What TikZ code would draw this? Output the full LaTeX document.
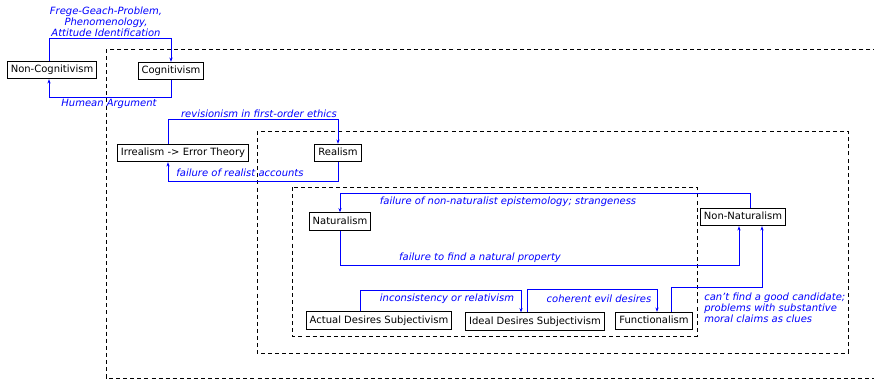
\documentclass[tikz,border=0pt]{standalone}
\usepackage{fontspec}
\setmainfont{DejaVu Sans}
\usepackage{tikz}
\usetikzlibrary{arrows.meta, calc}
\tikzset{
    concept/.style={rectangle, draw=black, line width=0.8pt, fill=white, minimum height=13pt, inner xsep=2.6pt, inner ysep=0pt, text height=5.7pt, text depth=1.6pt, font=\fontsize{7.5}{8}\selectfont},
    arrow/.style={draw=argblue, line width=0.7pt, -{Stealth[length=3.2pt, width=2.4pt]}},
    reason/.style={text=argblue, inner sep=0pt, font=\fontsize{7.5}{8.2}\selectfont\itshape},
    region/.style={draw=black, line width=0.75pt, dash pattern=on 3pt off 2.3pt}
}
\definecolor{argblue}{RGB}{0,0,255}

\begin{document}
\begin{tikzpicture}[x=0.75pt, y=-0.75pt]
    \clip (0,0) rectangle (874,379);

    % Dashed regions
    \draw[region] (106,49) rectangle (880,378);
    \draw[region] (257,131) rectangle (848,353);
    \draw[region] (292,187) rectangle (697,336);

    % Nodes
    \node (noncog) [concept] at (52,70) {Non-Cognitivism};
    \node (cog) [concept] at (171,71) {Cognitivism};
    \node (irreal) [concept] at (183,153) {Irrealism -> Error Theory};
    \node (real) [concept] at (338,153) {Realism};
    \node (natural) [concept] at (340,221.5) {Naturalism};
    \node (nonnat) [concept] at (743,217) {Non-Naturalism};
    \node (actual) [concept] at (379,320.5) {Actual Desires Subjectivism};
    \node (ideal) [concept] at (535,321.5) {Ideal Desires Subjectivism};
    \node (func) [concept] at (654,321) {Functionalism};

    % Labels
    \node (fregelbl) [reason, align=center] at (106,22) {Frege-Geach-Problem,\\Phenomenology,\\Attitude Identification};
    \node (humelbl) [reason] at (109,104) {Humean Argument};
    \node (revlbl) [reason] at (259,114) {revisionism in first-order ethics};
    \node (reallbl) [reason] at (240,173) {failure of realist accounts};
    \node (epistlbl) [reason] at (508,202) {failure of non-naturalist epistemology; strangeness};
    \node (proplbl) [reason] at (480,258) {failure to find a natural property};
    \node (inconlbl) [reason] at (447,299) {inconsistency or relativism};
    \node (evillbl) [reason] at (599,299) {coherent evil desires};
    \node (candlbl) [reason, align=left, anchor=west] at (704,308) {can{\char"0027}t find a good candidate;\\problems with substantive\\moral claims as clues};

    % Arrows
    \draw[arrow] ($(noncog.north)+(-3,0)$) -- ++(0,-22) -| (cog.north);
    \draw[arrow] (cog.south) -- ++(0,17) -| ($(noncog.south)+(-3,0)$);
    \draw[arrow] ($(irreal.north)+(-15,0)$) -- ++(0,-24) -| (real.north);
    \draw[arrow] (real.south) -- ++(0,19) -| ($(irreal.south)+(-15,0)$);
    \draw[arrow] ($(nonnat.north)+(7,0)$) -- ++(0,-14) -| (natural.north);
    \draw[arrow] (natural.south) -- ++(0,35) -| ($(nonnat.south)+(-4,0)$);
    \draw[arrow] ($(actual.north)+(-19,0)$) -- ++(0,-21) -| ($(ideal.north)+(-14,0)$);
    \draw[arrow] ($(ideal.north)+(-8,0)$) -- ++(0,-23) -| ($(func.north)+(3,0)$);
    \draw[arrow] ($(func.north)+(17,0)$) -- ++(0,-24) -| ($(nonnat.south)+(19,0)$);
\end{tikzpicture}
\end{document}
